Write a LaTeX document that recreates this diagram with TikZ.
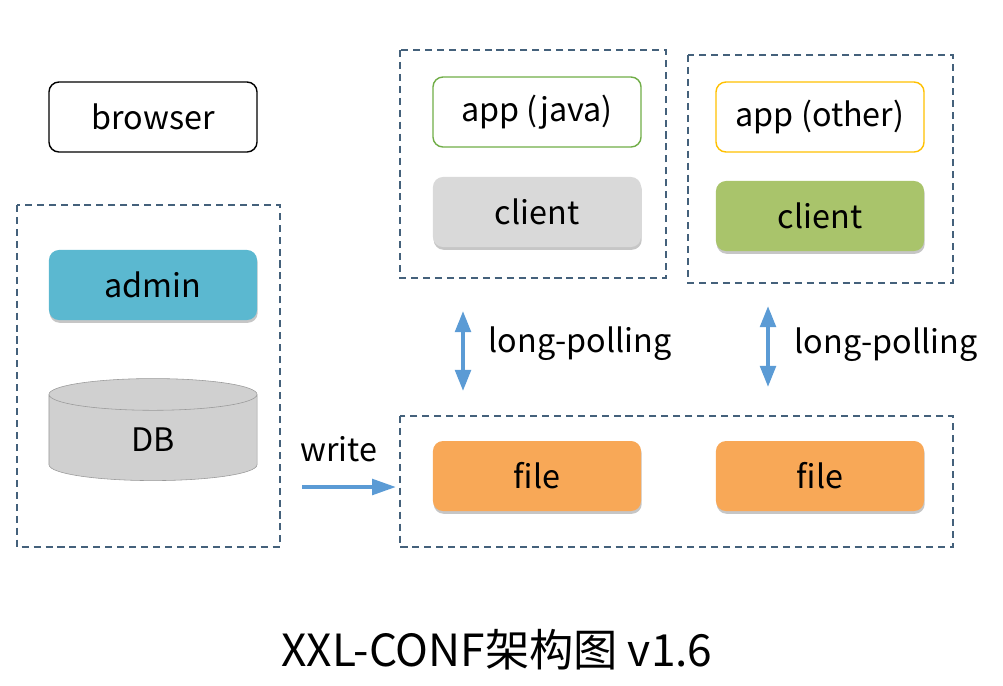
\documentclass[tikz,border=0pt]{standalone}
\usepackage{fontspec}
\setmainfont{Noto Sans CJK SC}
\usetikzlibrary{shapes.geometric,shadows,positioning}
\usepgflibrary{arrows.meta}

\definecolor{dashblue}{HTML}{44617B}
\definecolor{arrowblue}{HTML}{5B9BD5}
\definecolor{adminblue}{HTML}{5BB8D0}
\definecolor{clientgray}{HTML}{D9D9D9}
\definecolor{clientgreen}{HTML}{A9C46B}
\definecolor{fileorange}{HTML}{F8A857}
\definecolor{javagreen}{HTML}{70AD47}
\definecolor{othergold}{HTML}{FFC000}
\definecolor{dbgray}{HTML}{D0D0D0}

\begin{document}
\begin{tikzpicture}
    [x=0.025cm, y=-0.025cm,
    box/.style={rounded corners=0.25cm, minimum width=5.2cm, minimum height=1.75cm,
        font=\fontsize{23}{27}\selectfont},
    solidbox/.style={box, drop shadow={shadow xshift=0.5pt, shadow yshift=-2pt, opacity=0.45}},
    groupbox/.style={draw=dashblue, dash pattern=on 5pt off 3.5pt, line width=1pt},
    flow/.style={arrowblue, line width=2.8pt},
    label/.style={font=\fontsize{23}{27}\selectfont}]
        \useasboundingbox (0,0) rectangle (1003,685);
        %% groups
        \draw[groupbox] (17,205) rectangle (280,547);
        \draw[groupbox] (400,50) rectangle (666,278);
        \draw[groupbox] (688,55) rectangle (953,283);
        \draw[groupbox] (400,416) rectangle (953,547);
        %% admin side
        \node[box, draw=black, line width=1pt] (browser) at (153,117) {browser};
        \node[solidbox, fill=adminblue] (admin) at (153,285) {admin};
        \node[cylinder, shape border rotate=90, aspect=0.6, draw=gray!80, fill=dbgray,
            minimum width=5.2cm, minimum height=2.55cm,
            font=\fontsize{23}{27}\selectfont] (DB) at (153,440) {DB};
        %% apps
        \node[box, draw=javagreen, line width=1pt] (appjava) at (537,112) {app (java)};
        \node[solidbox, fill=clientgray] (clientjava) at (537,212) {client};
        \node[box, draw=othergold, line width=1pt] (appother) at (820,117) {app (other)};
        \node[solidbox, fill=clientgreen] (clientother) at (820,216) {client};
        %% files
        \node[solidbox, fill=fileorange] (file1) at (537,476) {file};
        \node[solidbox, fill=fileorange] (file2) at (820,476) {file};
        %% arrows
        \coordinate (writeA) at (302,487);
        \coordinate (writeB) at (396,487);
        \coordinate (pollA) at (463,311);
        \coordinate (pollB) at (463,391);
        \coordinate (pollC) at (768,306);
        \coordinate (pollD) at (768,387);
        \draw[flow, -{Triangle[length=17pt, width=11pt]}] (writeA) -- (writeB);
        \draw[flow, {Triangle[length=15pt, width=11pt]}-{Triangle[length=15pt, width=11pt]}] (pollA) -- (pollB);
        \draw[flow, {Triangle[length=15pt, width=11pt]}-{Triangle[length=15pt, width=11pt]}] (pollC) -- (pollD);
        \node[label] (writeL) at (339,449) {write};
        \node[label] (pollL1) at (580,344) {long-polling};
        \node[label] (pollL2) at (886,345) {long-polling};
        %% title
        \node[font=\fontsize{31.5}{38}\selectfont] (title) at (497,650) {XXL-CONF架构图 v1.6};
    \end{tikzpicture}
\end{document}
